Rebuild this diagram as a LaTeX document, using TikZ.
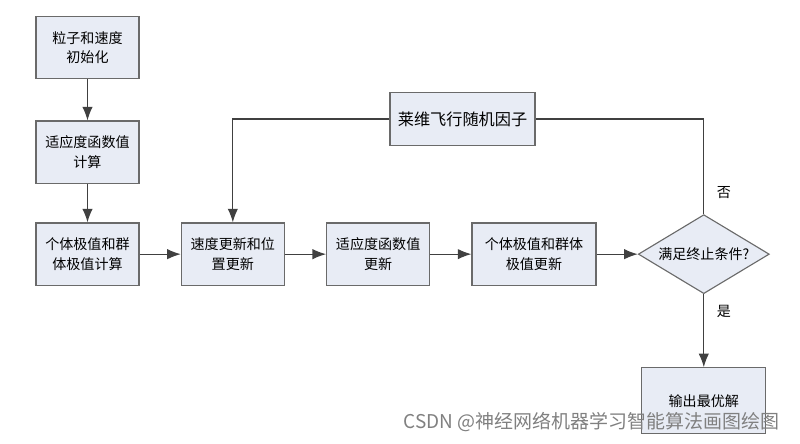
\documentclass[tikz,border=0pt]{standalone}
\usepackage{fontspec}
\setmainfont{Liberation Serif}
\newfontfamily\cjk{Noto Sans CJK SC}
\usepackage{xcolor}
\usetikzlibrary{shapes.geometric, arrows.meta, positioning}
\definecolor{boxfill}{HTML}{E8ECF5}
\definecolor{boxedge}{HTML}{6A6A6A}
\definecolor{wirecol}{HTML}{404040}
\tikzset{
  procbox/.style={
    rectangle,
    draw=boxedge,
    fill=boxfill,
    thick,
    align=center,
    minimum width=2.575cm,
    minimum height=1.56cm,
    font=\cjk\fontsize{10}{14}\selectfont,
  },
  levybox/.style={
    procbox,
    minimum width=3.625cm,
    minimum height=1.325cm,
    font=\cjk\fontsize{11.5}{14}\selectfont,
  },
  decision/.style={
    diamond,
    draw=boxedge,
    fill=boxfill,
    thick,
    aspect=1.66,
    inner sep=0pt,
    minimum width=3.275cm,
    minimum height=1.975cm,
    font=\cjk\fontsize{10}{14}\selectfont,
  },
  arrow/.style={
    -{Latex[length=3.4mm,width=2.6mm]},
    draw=wirecol,
    thick
  },
  wire/.style={
    -,
    draw=wirecol,
    thick
  }
}

\begin{document}
\begin{tikzpicture}[node distance=1.03cm]
  % canvas of 800 x 443 px, 1px = 0.025cm
  \useasboundingbox (0,0) rectangle (20,-11.075);

  % Initialisation column
  \node [procbox] (init) at (2.1875,-1.1875) {粒子和速度\\初始化};
  \node [procbox, below=of init]  (fit)  {适应度函数值\\计算};
  \node [procbox, below=0.96cm of fit] (best) {个体极值和群\\体极值计算};

  % Main loop row
  \node [procbox, right=of best]  (upd)     {速度更新和位\\置更新};
  \node [procbox, right=of upd]   (fitupd)  {适应度函数值\\更新};
  \node [procbox, right=of fitupd, minimum width=3.1cm] (bestupd) {个体极值和群体\\极值更新};
  \node [decision, right=of bestupd] (cond) {满足终止条件?};
  \node [procbox, below=1.825cm of cond, minimum width=3.1cm, minimum height=1.65cm] (out) {输出最优解};

  % Levy flight factor
  \node [levybox] (levy) at (11.5625,-2.975) {莱维飞行随机因子};

  % Labels of the decision
  \node [font=\cjk\fontsize{10}{12}\selectfont] (no)  at ([xshift=0.5cm, yshift=0.55cm]cond.north) {否};
  \node [font=\cjk\fontsize{10}{12}\selectfont] (yes) at ([xshift=0.5cm, yshift=-0.42cm]cond.south) {是};

  % Sequential flow
  \draw [arrow] (init) -- (fit);
  \draw [arrow] (fit)  -- (best);
  \draw [arrow] (best) -- (upd);
  \draw [arrow] (upd)  -- (fitupd);
  \draw [arrow] (fitupd) -- (bestupd);
  \draw [arrow] (bestupd) -- (cond);
  \draw [arrow] (cond) -- (out);

  % Loop back through the Levy factor
  \draw [wire]  (cond.north) |- (levy.east);
  \draw [arrow] (levy.west) -| (upd.north);

  % Watermark
  \node [font=\cjk\fontsize{13.5}{15}\selectfont, text=black!50, anchor=east] (mark) at (19.6,-10.55) {CSDN @神经网络机器学习智能算法画图绘图};
\end{tikzpicture}
\end{document}
